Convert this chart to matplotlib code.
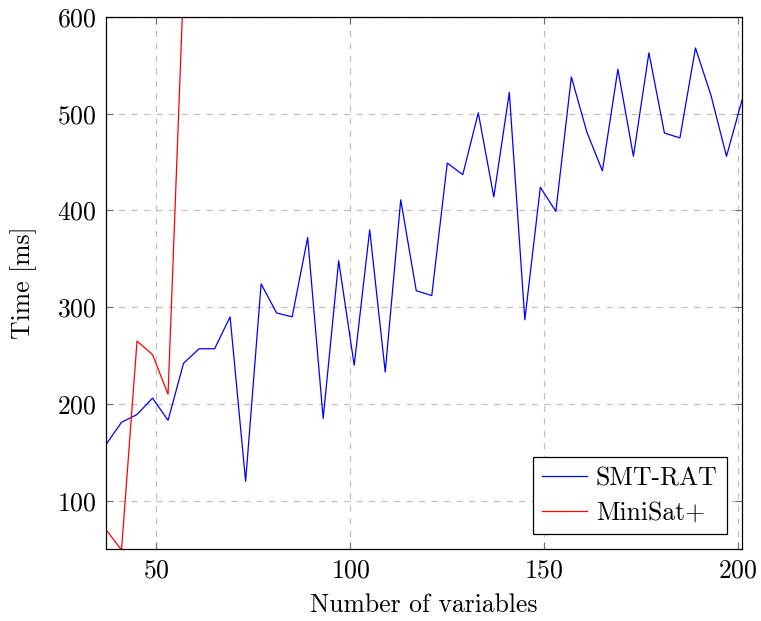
import matplotlib
matplotlib.use("Agg")
import matplotlib.pyplot as plt
import numpy as np

# SMT-RAT timings, one point every 4 variables from 37 to 201
smt_x = np.arange(37, 202, 4)
smt_y = [158, 181, 189, 206, 183, 242, 257, 257, 290, 120,
         324, 294, 290, 372, 185, 348, 240, 380, 233, 411,
         317, 312, 449, 437, 501, 414, 522, 287, 424, 399,
         538, 481, 441, 546, 456, 563, 480, 475, 568, 519,
         456, 514]

# MiniSat+ timings (leaves the plot after 57 variables)
mini_x = [37, 41, 45, 49, 53, 57]
mini_y = [70, 49, 265, 251, 210, 635]

xticks = [50, 100, 150, 200]
yticks = [100, 200, 300, 400, 500, 600]

plt.rcParams['font.family'] = 'serif'
plt.rcParams['font.serif'] = ['cmr10']
plt.rcParams['mathtext.fontset'] = 'cm'
plt.rcParams['axes.formatter.use_mathtext'] = True

FS = 18.5

fig = plt.figure(figsize=(7.61, 6.21), dpi=100)
ax = fig.add_axes([106 / 761, 1 - 549 / 621, 636 / 761, 532 / 621])

ax.plot(smt_x, smt_y, color='#0000ff', lw=0.9, label='SMT-RAT')
ax.plot(mini_x, mini_y, color='#ff0000', lw=0.9, label='MiniSat+')

ax.set_xlim(37, 201)
ax.set_ylim(50, 600)
ax.set_xticks(xticks)
ax.set_yticks(yticks)
ax.grid(True, color='#c0c0c0', ls=(0, (5, 5)), lw=0.9)
ax.tick_params(direction='in', length=5, width=0.8, color='#707070',
               top=True, right=True, labelsize=FS, pad=7)
for sp in ax.spines.values():
    sp.set_linewidth(0.9)

ax.set_xlabel('Number of variables', fontsize=FS, labelpad=8)
ax.set_ylabel('Time [ms]', fontsize=FS, labelpad=14)

leg = ax.legend(loc='lower right', fontsize=FS, fancybox=False,
                edgecolor='black', framealpha=1, borderaxespad=0.6,
                handlelength=1.75, borderpad=0.35, labelspacing=0.42,
                handletextpad=0.35)
leg.get_frame().set_linewidth(0.9)

fig.savefig('out.png', dpi=100)
